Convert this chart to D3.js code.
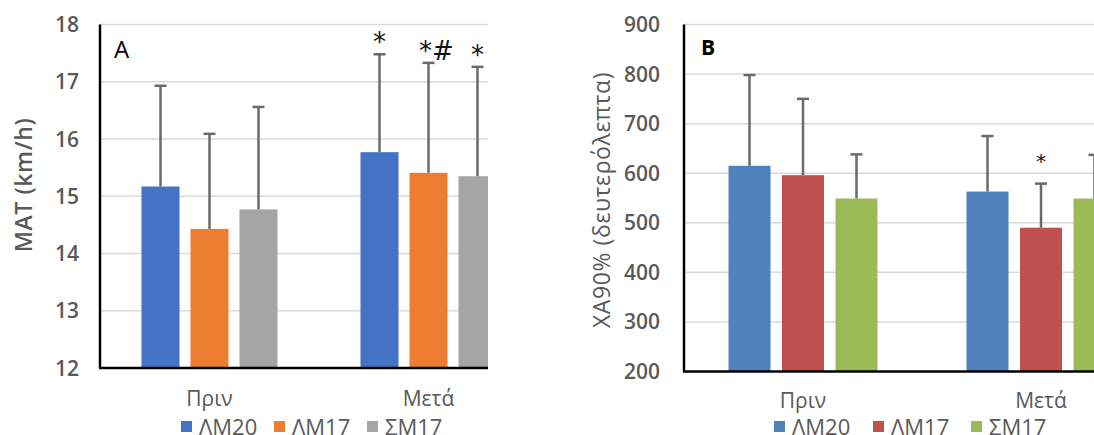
<!DOCTYPE html>
<html>
<head>
<meta charset="utf-8">
<script src="https://cdn.jsdelivr.net/npm/d3@7"></script>
<style>
  body { margin: 0; background: #fff; }
  svg { display: block; font-family: "Open Sans", "Noto Sans", sans-serif; }
  .tick-label { fill: #595959; font-size: 21px; font-weight: 600; }
  .cat-label { fill: #595959; font-size: 21px; }
  .legend-text { fill: #595959; font-size: 22px; }
  .grid { stroke: #d9d9d9; stroke-width: 1.5; }
  .err { stroke: #6a6a6a; stroke-width: 2.5; fill: none; }
</style>
</head>
<body>
<svg id="chart" width="1094" height="435"></svg>
<script>
// categories / series
const categories = ['Πριν', 'Μετά'];
const series = ['ΛΜ20', 'ΛΜ17', 'ΣΜ17'];

// Panel A: MAT (km/h)
const matMean = [[15.17, 14.43, 14.77], [15.77, 15.41, 15.35]];
const matSd = [[1.76, 1.66, 1.79], [1.71, 1.92, 1.91]];
const matMarks = [['', '', ''], ['*', '*#', '*']];
const matTicks = [12, 13, 14, 15, 16, 17, 18];

// Panel B: ΧΑ90% (δευτερόλεπτα)
const xaMean = [[615, 596, 549], [563, 490, 549]];
const xaSd = [[183, 154, 89], [112, 89, 88]];
const xaMarks = [['', '', ''], ['', '*', '']];
const xaTicks = [200, 300, 400, 500, 600, 700, 800, 900];

const colorsA = ['#4472C4', '#ED7D31', '#A5A5A5'];
const colorsB = ['#4F81BD', '#C0504D', '#9BBB59'];

const svg = d3.select('#chart');

// 画一个面板
function drawPanel(opt) {
    const g = svg.append('g').attr('class', 'panel_' + opt.id);
    const y = d3.scaleLinear().domain(opt.domain).range([opt.bottom, opt.top]);
    const x0 = d3.scaleBand().domain(categories).range([opt.left, opt.left + 2 * opt.band]);
    const x1 = d3.scaleBand().domain(series).range([0, x0.bandwidth()])
        .paddingInner(opt.pi).paddingOuter(opt.po);

    // clip
    g.append('clipPath').attr('id', 'clip_' + opt.id)
        .append('rect')
        .attr('x', opt.left).attr('y', 0)
        .attr('width', opt.clipRight - opt.left).attr('height', opt.bottom + 2);
    const plot = g.append('g').attr('clip-path', `url(#clip_${opt.id})`);

    // gridlines
    plot.selectAll('.grid').data(opt.ticks.slice(1)).enter().append('line')
        .attr('class', 'grid')
        .attr('x1', opt.left).attr('x2', opt.clipRight)
        .attr('y1', d => y(d)).attr('y2', d => y(d));

    // tick labels
    g.selectAll('.tick-label').data(opt.ticks).enter().append('text')
        .attr('class', 'tick-label')
        .attr('x', opt.tickX)
        .attr('y', d => y(d))
        .attr('dy', '0.36em')
        .attr('text-anchor', 'end')
        .text(d => d);

    // bars
    categories.forEach((cat, ci) => {
        const cg = plot.append('g').attr('transform', `translate(${x0(cat)},0)`);
        series.forEach((s, si) => {
            const v = opt.mean[ci][si];
            const sd = opt.sd[ci][si];
            const bx = x1(s);
            const cx = bx + x1.bandwidth() / 2;
            cg.append('rect')
                .attr('x', bx).attr('y', y(v))
                .attr('width', x1.bandwidth()).attr('height', y(opt.domain[0]) - y(v))
                .attr('fill', opt.colors[si]);
            cg.append('line').attr('class', 'err')
                .attr('x1', cx).attr('x2', cx)
                .attr('y1', y(v)).attr('y2', y(v + sd));
            cg.append('line').attr('class', 'err')
                .attr('x1', cx - 6).attr('x2', cx + 6)
                .attr('y1', y(v + sd)).attr('y2', y(v + sd));
            const m = opt.marks[ci][si];
            if (m) {
                cg.append('text')
                    .attr('x', cx + (m.length > 1 ? 8 : 0))
                    .attr('y', y(v + sd) - opt.markGap)
                    .attr('text-anchor', 'middle')
                    .style('font-family', '"DejaVu Sans", sans-serif')
                    .style('font-size', opt.markSize + 'px')
                    .attr('fill', '#111')
                    .text(m);
            }
        });
    });

    // axes
    g.append('line').attr('x1', opt.left).attr('x2', opt.left)
        .attr('y1', opt.top).attr('y2', opt.bottom)
        .attr('stroke', '#000').attr('stroke-width', 2.5);
    g.append('line').attr('x1', opt.left - 1).attr('x2', opt.clipRight)
        .attr('y1', opt.bottom).attr('y2', opt.bottom)
        .attr('stroke', '#000').attr('stroke-width', 2.5);

    // category labels
    g.selectAll('.cat-label').data(categories).enter().append('text')
        .attr('class', 'cat-label')
        .attr('x', d => x0(d) + x0.bandwidth() / 2)
        .attr('y', opt.catY)
        .attr('text-anchor', 'middle')
        .text(d => d);

    // y title
    g.append('text')
        .attr('transform', `translate(${opt.titleX},${opt.titleY}) rotate(-90)`)
        .attr('text-anchor', 'middle')
        .attr('dy', '0.35em')
        .attr('fill', '#595959')
        .style('font-size', opt.titleSize + 'px')
        .style('font-weight', opt.titleWeight)
        .style('letter-spacing', opt.titleSpacing + 'px')
        .text(opt.title);

    // panel letter
    g.append('text')
        .attr('x', opt.letterX).attr('y', opt.letterY)
        .attr('fill', '#000')
        .style('font-size', opt.letterSize + 'px')
        .style('font-weight', opt.letterWeight)
        .text(opt.letter);

    // legend
    opt.legendX.forEach((lx, i) => {
        g.append('rect').attr('x', lx).attr('y', 421)
            .attr('width', 11).attr('height', 11).attr('fill', opt.colors[i]);
        g.append('text').attr('class', 'legend-text')
            .attr('x', lx + 18).attr('y', 435)
            .text(series[i]);
    });
}

drawPanel({
    id: 'A', domain: [12, 18], ticks: matTicks,
    mean: matMean, sd: matSd, marks: matMarks, colors: colorsA,
    left: 100, band: 219, pi: 0.224, po: 0.847,
    top: 24.5, bottom: 368, clipRight: 488, tickX: 79,
    catY: 406, title: 'MAT (km/h)', titleX: 24, titleY: 185, titleSize: 23, titleWeight: 600, titleSpacing: 0.6,
    letter: 'A', letterX: 114, letterY: 58, letterSize: 24, letterWeight: 400,
    markSize: 26, markGap: 3,
    legendX: [181, 274, 367]
});

drawPanel({
    id: 'B', domain: [200, 900], ticks: xaTicks,
    mean: xaMean, sd: xaSd, marks: xaMarks, colors: colorsB,
    left: 684, band: 238, pi: 0.215, po: 0.832,
    top: 24.5, bottom: 371.5, clipRight: 1094, tickX: 660,
    catY: 408, title: 'ΧΑ90% (δευτερόλεπτα)', titleX: 602, titleY: 200, titleSize: 23, titleWeight: 400, titleSpacing: 0.6,
    letter: 'B', letterX: 701, letterY: 55, letterSize: 21, letterWeight: 700,
    markSize: 20, markGap: 16,
    legendX: [774, 873, 971]
});
</script>
</body>
</html>
